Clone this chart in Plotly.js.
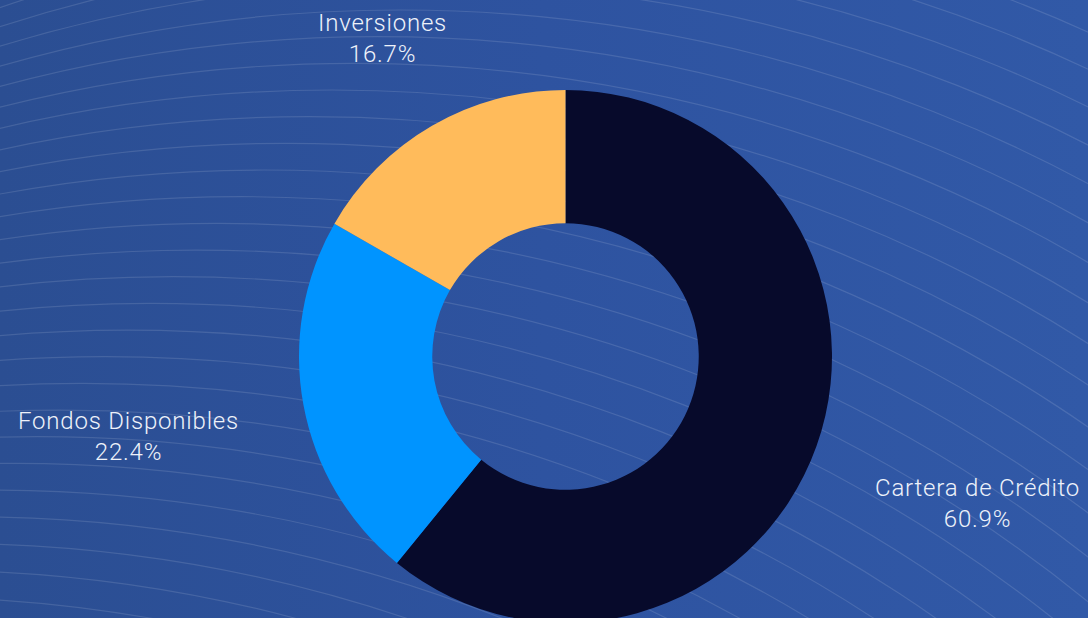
<!DOCTYPE html>
<html>
<head>
<meta charset="utf-8">
<script src="https://cdn.plot.ly/plotly-3.0.1.min.js"></script>
<style>
  html, body { margin: 0; padding: 0; width: 1088px; height: 618px; overflow: hidden; }
  body { background: linear-gradient(90deg, #2b4e92 0%, #2e53a0 50%, #3159a7 100%); }
  #chart { width: 1088px; height: 640px; }
  .annotation-text { letter-spacing: 0.8px; }
</style>
</head>
<body>
<div id="chart"></div>
<script>
// ---- data ----
const categories = ['Cartera de Crédito', 'Fondos Disponibles', 'Inversiones'];
const shares = [60.9, 22.4, 16.7];
const sliceColors = ['#070a2b', '#0094ff', '#ffbb5b'];

// ---- layout helpers ----
const W = 1088, H = 640;
const toPX = x => x / W;
const toPY = y => (H - y) / H;

// decorative background arcs
const arcR = 1450, arcStep = 35, arcDir = [-0.648, 0.762], arcBase = [400, 10];
const shapes = [];
for (let k = -9; k <= 24; k++) {
  const s = k * arcStep;
  const cx = arcBase[0] + arcDir[0] * s;
  const cy = arcBase[1] + arcDir[1] * s + arcR;
  shapes.push({
    type: 'circle', xref: 'paper', yref: 'paper', layer: 'below',
    x0: toPX(cx - arcR), x1: toPX(cx + arcR),
    y0: toPY(cy + arcR), y1: toPY(cy - arcR),
    line: { color: 'rgba(255,255,255,0.12)', width: 1.2 },
    fillcolor: 'rgba(0,0,0,0)'
  });
}

// label anchor positions (pixels)
const labelPos = [[977, 503], [128, 436], [382, 39]];
const annotations = categories.map((c, i) => ({
  xref: 'paper', yref: 'paper',
  x: toPX(labelPos[i][0]), y: toPY(labelPos[i][1]),
  xanchor: 'center', yanchor: 'middle', align: 'center',
  showarrow: false,
  text: c + '<br>' + shares[i].toFixed(1) + '%',
  font: { family: 'Roboto, sans-serif', size: 24, weight: 300, color: '#eef2fa' }
}));

const trace = {
  type: 'pie',
  labels: categories,
  values: shares,
  marker: { colors: sliceColors, line: { width: 0 } },
  hole: 0.5,
  sort: false,
  direction: 'clockwise',
  rotation: 0,
  textinfo: 'none',
  hoverinfo: 'label+percent',
  showlegend: false,
  domain: { x: [toPX(565.5 - 300), toPX(565.5 + 300)], y: [toPY(356.5 + 266.5), toPY(356.5 - 266.5)] }
};

const layout = {
  width: W, height: H,
  margin: { l: 0, r: 0, t: 0, b: 0 },
  paper_bgcolor: 'rgba(0,0,0,0)',
  plot_bgcolor: 'rgba(0,0,0,0)',
  showlegend: false,
  shapes: shapes,
  annotations: annotations
};

Plotly.newPlot('chart', [trace], layout, { displayModeBar: false, staticPlot: true });
</script>
</body>
</html>
